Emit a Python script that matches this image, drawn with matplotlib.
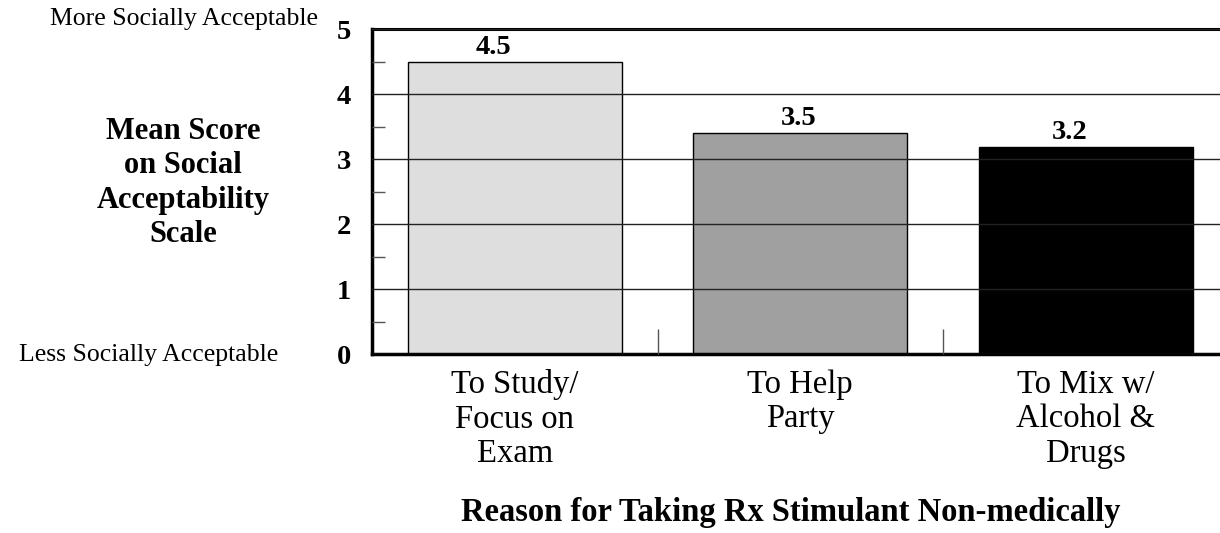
import matplotlib.pyplot as plt
from matplotlib.ticker import MultipleLocator

plt.rcParams['font.family'] = ['Liberation Serif', 'DejaVu Serif']

# data
reasons = ["To Study/\nFocus on\nExam", "To Help\nParty", "To Mix w/\nAlcohol &\nDrugs"]
mean_scores = [4.49, 3.40, 3.19]
score_labels = ["4.5", "3.5", "3.2"]
label_shift = [-0.074, -0.007, -0.056]   # value labels sit a bit off-centre in the original
bar_colors = ["#dedede", "#a0a0a0", "#000000"]

W, H = 1220, 533
fig = plt.figure(figsize=(W / 100, H / 100), dpi=100)
ax = fig.add_axes([372 / W, 1 - 354 / H, (1228.5 - 372) / W, (354 - 29.3) / H])

x = list(range(len(reasons)))
ax.bar(x, mean_scores, width=0.75, color=bar_colors, edgecolor="black", linewidth=1.0, zorder=1)

for xi, val, lab, dx in zip(x, mean_scores, score_labels, label_shift):
    ax.text(xi + dx, val + 0.03, lab, ha="center", va="bottom", fontsize=20.5, fontweight="bold")

ax.set_xlim(-0.5, 2.5)
ax.set_ylim(0, 5)

# y axis
ax.yaxis.set_major_locator(MultipleLocator(1))
ax.yaxis.set_minor_locator(MultipleLocator(0.5))
ax.tick_params(axis="y", which="major", length=0, pad=15, labelsize=20.5)
ax.tick_params(axis="y", which="minor", direction="in", length=9, width=1, color="#555555")
for t in ax.get_yticklabels():
    t.set_fontweight("bold")
ax.yaxis.grid(True, which="major", color="#222222", linewidth=1.0)
ax.set_axisbelow(False)

# x axis: ticks at category boundaries, labels at centres
ax.set_xticks([0.5, 1.5])
ax.set_xticklabels([])
ax.tick_params(axis="x", which="major", direction="in", length=18, width=1, color="#555555")
ax.set_xticks(x, minor=True)
ax.set_xticklabels(reasons, minor=True, fontsize=23.5, linespacing=1.17)
ax.tick_params(axis="x", which="minor", length=0, pad=11)

for side in ["left", "bottom"]:
    ax.spines[side].set_linewidth(2.5)
ax.spines["top"].set_linewidth(2.2)
ax.spines["right"].set_visible(False)

# side annotations
fig.text(318 / W, 1 - 19 / H, "More Socially Acceptable", ha="right", va="center", fontsize=18.5)
fig.text(278 / W, 1 - 355 / H, "Less Socially Acceptable", ha="right", va="center", fontsize=18.5)
fig.text(183 / W, 1 - 183 / H, "Mean Score\non Social\nAcceptability\nScale",
         ha="center", va="center", fontsize=22, fontweight="bold", linespacing=1.25)

fig.text(791 / W, 1 - 513 / H, "Reason for Taking Rx Stimulant Non-medically",
         ha="center", va="center", fontsize=23.5, fontweight="bold")

fig.savefig("out.png", dpi=100)
